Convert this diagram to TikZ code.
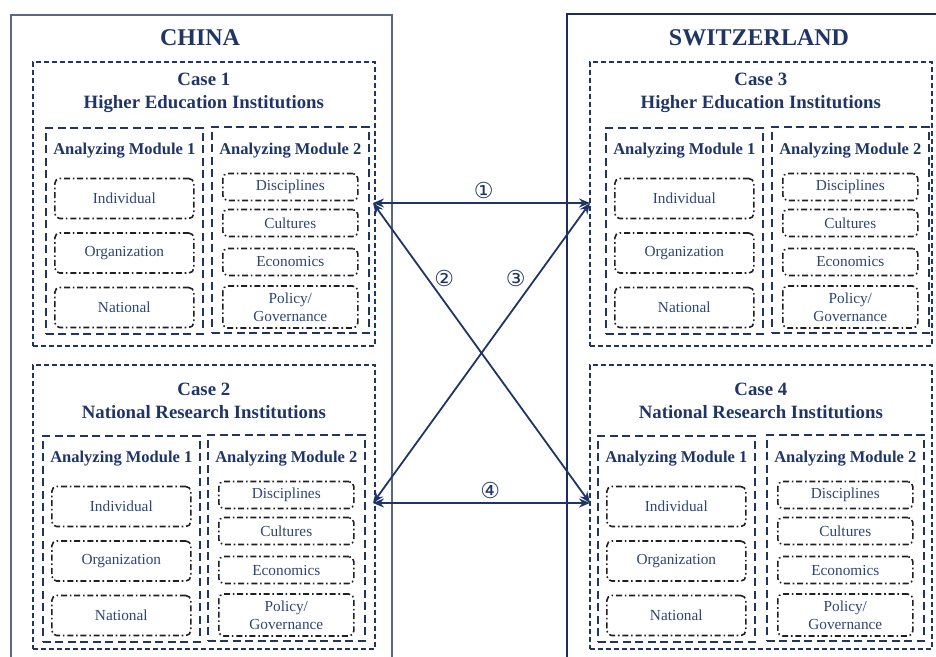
\documentclass[tikz,border=0pt]{standalone}
\usepackage{fontspec}
\setmainfont{Liberation Serif}
\newfontfamily\numfont{DejaVu Sans}
\usetikzlibrary{positioning, arrows.meta, calc}

\definecolor{navy}{HTML}{1F3566}
\definecolor{itemnavy}{HTML}{2E4474}
\definecolor{slate}{HTML}{5A6883}
\definecolor{darkframe}{HTML}{1C2D5A}
\definecolor{dotgray}{HTML}{202024}

\tikzset{
    countrybox/.style={draw, line width=1.6pt, inner sep=0pt, anchor=north west},
    countrytitle/.style={text=navy, font=\fontsize{24}{26}\selectfont\bfseries},
    casebox/.style={draw=navy, line width=1.7pt, dash pattern=on 5pt off 3pt, inner sep=0pt,
        anchor=north west, minimum width=342pt, minimum height=284pt},
    casetitle/.style={text=navy, align=center, font=\fontsize{18.8}{23}\selectfont\bfseries},
    modbox/.style={draw=navy, line width=1.6pt, dash pattern=on 8pt off 4.5pt, inner sep=0pt,
        anchor=north west, minimum width=157pt, minimum height=206pt},
    modtitle/.style={text=navy, font=\fontsize{16.5}{19}\selectfont\bfseries},
    itembox/.style={draw=dotgray, line width=1.6pt, rounded corners=5pt,
        dash pattern=on 6pt off 2.8pt on 1.6pt off 2.8pt, inner sep=0pt, align=center,
        text=itemnavy, font=\fontsize{15.3}{18}\selectfont},
    link/.style={draw=navy, line width=1.8pt, {Stealth[length=11pt,width=9pt]}-{Stealth[length=11pt,width=9pt]}},
    num/.style={text=navy, font=\numfont\fontsize{22}{22}\selectfont, inner sep=0pt}
}

\begin{document}
\begin{tikzpicture}[x=1pt, y=-1pt]
    \useasboundingbox (0,0) rectangle (936,656);

    \begin{scope}
        \clip (0,0) rectangle (936,656);

        % country frames, running off the page
        \node[countrybox, draw=slate, minimum width=381pt, minimum height=700pt] (china) at (10,14) {};
        \node[countrybox, draw=darkframe, minimum width=400pt, minimum height=700pt] (swiss) at (566,13) {};

        \node[countrytitle] (chinatitle) at (200,38) {CHINA};
        \node[countrytitle] (swisstitle) at (759,38) {SWITZERLAND};

        % cases: number / left / top / module 1 left / module 2 left / shift / title
        \foreach \n/\cx/\cy/\ma/\mb/\dy/\title in {
            1/32/61/45/211/0/Higher Education Institutions,
            2/32/364/42/207/5/National Research Institutions,
            3/589/61/605/771/0/Higher Education Institutions,
            4/589/364/597/766/5/National Research Institutions}
        {
            \node[casebox] (case\n) at (\cx,\cy) {};
            \node[casetitle] (casetitle\n) at ($(case\n.north)+(0,31.5+\dy)$) {Case \n\\\title};

            % analyzing module 1
            \node[modbox] (mod\n a) at (\ma,\cy+66+\dy) {};
            \node[modtitle] (modtitle\n a) at ($(mod\n a.north)+(0,24)$) {Analyzing Module 1};
            \foreach \lbl [count=\k] in {Individual, Organization, National}
            {
                \node[itembox, minimum width=139pt, minimum height=40pt]
                    (item\n a\k) at ($(mod\n a.north)+(0,17+54.5*\k)$) {\lbl};
            }

            % analyzing module 2
            \node[modbox] (mod\n b) at (\mb,\cy+65+\dy) {};
            \node[modtitle] (modtitle\n b) at ($(mod\n b.north)+(0,25)$) {Analyzing Module 2};
            \foreach \lbl/\yy [count=\k] in {Disciplines/61, Cultures/97, Economics/136}
            {
                \node[itembox, minimum width=135pt, minimum height=27pt]
                    (item\n b\k) at ($(mod\n b.north)+(0,\yy)$) {\lbl};
            }
            \node[itembox, minimum width=135pt, minimum height=42pt]
                (item\n b4) at ($(mod\n b.north)+(0,181)$) {Policy/\\Governance};
        }
    \end{scope}

    % comparison links
    \coordinate (l1) at (373,203);
    \coordinate (r1) at (590,203);
    \coordinate (l2) at (373,503);
    \coordinate (r2) at (590,503);

    \draw[link] (l1) -- node[num, pos=0.51, above=3pt] {①} (r1);
    \draw[link] (l1) -- node[num, pos=0.25, xshift=17pt] {②} (r2);
    \draw[link] (r1) -- node[num, pos=0.25, xshift=-20pt] {③} (l2);
    \draw[link] (l2) -- node[num, pos=0.54, above=3pt] {④} (r2);
\end{tikzpicture}
\end{document}
